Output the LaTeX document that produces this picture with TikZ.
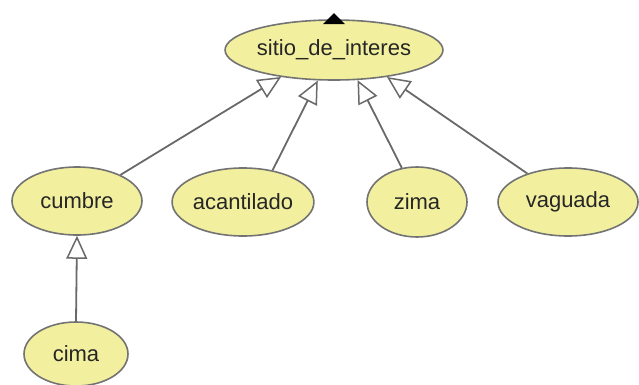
\documentclass[tikz,border=0pt]{standalone}
\usepackage{fontspec}
\setmainfont{Liberation Sans}
\usetikzlibrary{shapes.geometric,arrows.meta}
\definecolor{nodefill}{RGB}{242,240,158}
\definecolor{edgegray}{RGB}{105,105,105}
\definecolor{bordergray}{RGB}{115,115,115}
\tikzset{
  cls/.style={ellipse, draw=bordergray, line width=1.6pt, fill=nodefill, inner sep=0pt,
    font=\fontsize{22}{24}\selectfont, text=black!85},
  isa/.style={draw=edgegray, line width=1.8pt,
    -{Triangle[length=23pt,width=21pt,fill=white,line width=1.5pt]}}
}
\begin{document}
\begin{tikzpicture}[x=1pt,y=-1pt]
\useasboundingbox (0,0) rectangle (639,385);
\node[cls, minimum width=216pt, minimum height=60pt] (sitio) at (334,50) {sitio\_de\_interes};
\node[cls, minimum width=130pt, minimum height=68pt] (cumbre) at (77,201) {cumbre};
\node[cls, minimum width=140pt, minimum height=68pt] (acant) at (243,202) {acantilado};
\node[cls, minimum width=100pt, minimum height=70pt] (zima) at (417,202) {zima};
\node[cls, minimum width=140pt, minimum height=68pt] (vag) at (568,202) {vaguada};
\node[cls, minimum width=104pt, minimum height=64pt] (cima) at (76,354) {cima};
\fill[black] ([xshift=-11pt,yshift=-5pt]sitio.north) -- ([xshift=11pt,yshift=-5pt]sitio.north) -- ([yshift=6pt]sitio.north) -- cycle;
\draw[isa] (cumbre.31) -- (sitio.207);
\draw[isa] (acant.47) -- (sitio.242);
\draw[isa] (zima.114) -- (sitio.308);
\draw[isa] (vag.145) -- (sitio.333);
\draw[isa] (cima.north) -- (cumbre.south);
\end{tikzpicture}
\end{document}
